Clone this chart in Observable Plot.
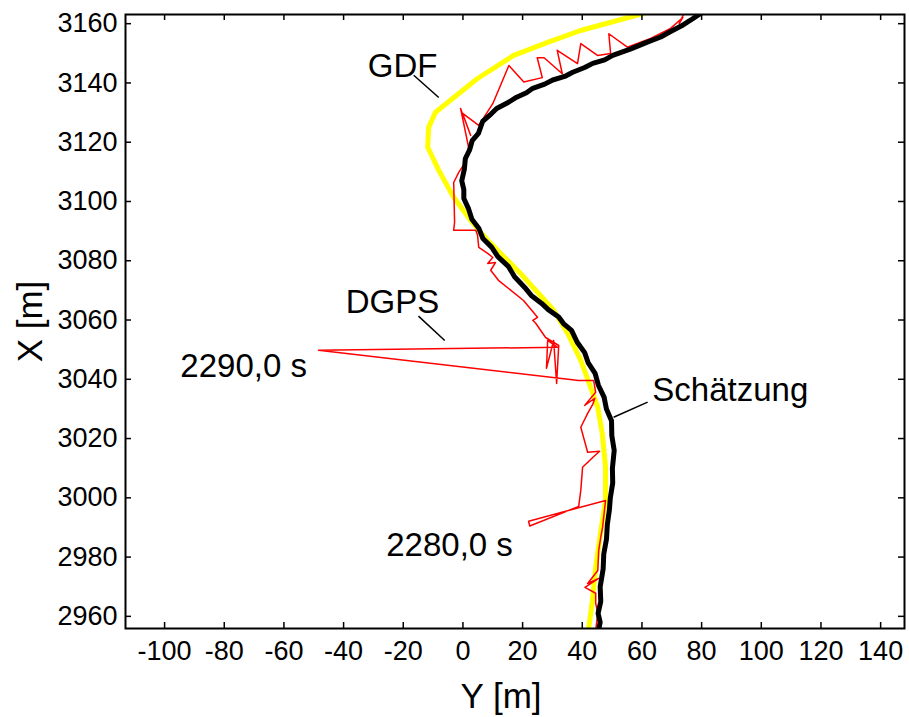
<!DOCTYPE html>
<html><head><meta charset="utf-8">
<script src="https://cdn.jsdelivr.net/npm/d3@7"></script>
<script src="https://cdn.jsdelivr.net/npm/@observablehq/plot@0.6"></script>
<style>body{margin:0;background:#fff} svg{display:block}</style>
</head><body><div id="chart"></div>
<script>
// Tick values
const xTicks = [-100, -80, -60, -40, -20, 0, 20, 40, 60, 80, 100, 120, 140];
const yTicks = [2960, 2980, 3000, 3020, 3040, 3060, 3080, 3100, 3120, 3140, 3160];

// GDF (yellow) : Y [m], X [m]
const gdfY = [42, 43.4, 44.5, 46.1, 47.8, 47.8, 46.7, 45.2, 42.8, 39.5, 35.1, 30.4, 19.3, 8.3, 2.6, -3.1, -8.1, -11.8, -11.5, -9.2, 4.9, 17, 28.4, 39.4, 62.5];
const gdfX = [2955, 2965.4, 2976.6, 2988, 2999, 3010.3, 3021.6, 3030.5, 3037.3, 3046.4, 3055.5, 3063.3, 3075.7, 3086.9, 3093.6, 3101.4, 3110.5, 3118.3, 3125, 3130.1, 3141.5, 3149.3, 3153.7, 3157.7, 3164];

// DGPS (red)
const dgpsY = [44.5, 45.2, 44.5, 44.5, 40.9, 45.5, 41.8, 45.2, 45.5, 46.2, 46.8, 47.8, 22.0, 22.4, 38.8, 39.5, 40.1, 43.5, 45.8, 41.8, 39.5, 41.8, 43.5, 44.2, 40.8, 44.5, 43.8, 38.8, -48.4, 31.7, 28.4, 28.0, 30.4, 31.4, 32.1, 27.7, 24.4, 23.4, 25.0, 20.3, 11.9, 9.3, 10.9, 8.3, 10.0, 8.3, 5.3, 4.9, 4.3, -3.1, -2.8, -3.1, -1.4, 1.2, 1.9, -0.8, 2.6, -0.1, 5.3, 10.0, 15.4, 20.4, 26.6, 24.9, 27.2, 33.3, 31.6, 38.4, 39.5, 45.1, 49.5, 48.9, 55.1, 62.9, 69.6, 73.7, 72.5, 74.1];
const dgpsX = [2955.3, 2961.0, 2964.4, 2967.8, 2969.8, 2972.8, 2971.1, 2975.5, 2982.3, 2986.7, 2990.0, 2999.1, 2992.1, 2990.5, 2997.1, 3002.5, 3010.3, 3013.6, 3015.7, 3015.4, 3023.8, 3028.5, 3031.5, 3033.6, 3031.2, 3035.6, 3039.6, 3039.6, 3049.8, 3050.8, 3053.1, 3043.7, 3053.1, 3038.6, 3051.4, 3054.1, 3058.9, 3059.9, 3060.9, 3066.6, 3073.4, 3076.8, 3079.4, 3079.1, 3081.1, 3082.5, 3084.5, 3088.6, 3090.3, 3090.3, 3093.0, 3106.4, 3109.8, 3113.9, 3118.3, 3131.4, 3122.3, 3129.7, 3125.7, 3133.0, 3145.9, 3140.3, 3141.8, 3148.5, 3148.5, 3143.1, 3151.0, 3146.5, 3153.3, 3149.3, 3149.9, 3156.6, 3152.1, 3155.0, 3158.4, 3162.1, 3160.0, 3163.5];

// Schätzung (black), slightly jittery as in the picture
const estY = [45.4, 46.0, 45.3, 46.2, 46.0, 47.0, 47.2, 48.1, 48.4, 49.1, 49.4, 50.2, 50.1, 50.7, 49.9, 49.8, 48.1, 47.3, 45.4, 44.3, 42.0, 40.8, 38.3, 36.4, 33.7, 32.1, 28.6, 26.4, 22.9, 20.7, 17.3, 15.3, 11.7, 9.6, 6.7, 5.3, 3.0, 1.9, 0.3, 0.3, -0.4, 0.5, 0.8, 2.2, 3.1, 5.2, 6.6, 9.5, 11.3, 15.3, 18.0, 21.3, 23.4, 27.4, 30.1, 34.1, 36.8, 40.8, 43.5, 47.5, 50.2, 56.3, 61.6, 66.3, 69.3, 73.3, 76.0, 80.5];
const estX = [2955, 2958, 2961, 2965, 2970, 2976, 2981, 2986, 2991, 2996, 3000, 3005, 3010, 3016, 3021, 3026, 3030, 3034, 3038, 3042, 3045.5, 3049, 3052.5, 3056.5, 3058.8, 3061, 3063.5, 3065.6, 3068.3, 3071, 3074.6, 3078, 3081.4, 3084.6, 3087.5, 3091, 3094, 3097.5, 3101, 3104, 3107, 3111, 3114.5, 3117.3, 3120.5, 3123, 3127, 3129.6, 3131.4, 3133.5, 3135.2, 3136.7, 3138.2, 3139.6, 3141, 3142.2, 3143.6, 3145.2, 3146.6, 3147.8, 3149.3, 3151.5, 3153.7, 3155.5, 3157.2, 3159.3, 3161, 3164];

// Annotations
const annoText = ["GDF", "DGPS", "2290,0 s", "Schätzung", "2280,0 s"];
const annoY = [-20.2, -23.6, -73.5, 89.6, -4.5];
const annoX = [3145.6, 3066.0, 3044.4, 3036.3, 2984.0];
// Leader lines
const leadY1 = [-16.5, -14.9, 61.9];
const leadX1 = [3142.6, 3061.3, 3032.3];
const leadY2 = [-8.1, -6.1, 50.5];
const leadX2 = [3135.1, 3053.1, 3027.2];

const toRows = (ys, xs) => ys.map((e, i) => ({e, n: xs[i]}));
const gdf = toRows(gdfY, gdfX);
const dgps = toRows(dgpsY, dgpsX);
const est = toRows(estY, estX);
const annos = annoText.map((t, i) => ({t, e: annoY[i], n: annoX[i]}));
const leaders = leadY1.map((v, i) => ({e1: v, n1: leadX1[i], e2: leadY2[i], n2: leadX2[i]}));

const W = 909, H = 717, mL = 125, mR = 5, mT = 14, mB = 89;
const innerW = W - mL - mR, innerH = H - mT - mB;

const chart = Plot.plot({
  width: W, height: H,
  marginLeft: mL, marginRight: mR, marginTop: mT, marginBottom: mB,
  style: {fontFamily: "'Liberation Sans', Arial, sans-serif", background: "#fff", color: "#000"},
  x: {domain: [-113.1, 148]},
  y: {domain: [2955.9, 3163.1]},
  marks: [
    Plot.line(gdf, {x: "e", y: "n", stroke: "#ffff00", strokeWidth: 5, clip: true}),
    Plot.line(dgps, {x: "e", y: "n", stroke: "#ff0000", strokeWidth: 1.5, clip: true}),
    Plot.line(est, {x: "e", y: "n", stroke: "#000", strokeWidth: 5, clip: true}),
    Plot.tickX(xTicks, {x: d => d, insetTop: innerH - 6, stroke: "#000", strokeWidth: 1.5}),
    Plot.tickX(xTicks, {x: d => d, insetBottom: innerH - 6, stroke: "#000", strokeWidth: 1.5}),
    Plot.tickY(yTicks, {y: d => d, insetRight: innerW - 6, stroke: "#000", strokeWidth: 1.5}),
    Plot.tickY(yTicks, {y: d => d, insetLeft: innerW - 6, stroke: "#000", strokeWidth: 1.5}),
    Plot.frame({stroke: "#000", strokeWidth: 2}),
    Plot.axisX(xTicks, {tickSize: 0, tickPadding: 12, fontSize: 27, tickFormat: d => String(d), label: null}),
    Plot.axisY(yTicks, {tickSize: 0, tickPadding: 8, fontSize: 27, tickFormat: d => String(d), label: null}),
    Plot.text(["X [m]"], {text: d => d, frameAnchor: "left", textAnchor: "middle", lineAnchor: "middle", dx: -95, rotate: -90, fontSize: 35}),
    Plot.text(["Y [m]"], {text: d => d, frameAnchor: "bottom", textAnchor: "middle", lineAnchor: "middle", dx: -14, dy: 68, fontSize: 35}),
    Plot.link(leaders, {x1: "e1", y1: "n1", x2: "e2", y2: "n2", stroke: "#000", strokeWidth: 1.5}),
    Plot.text(annos, {x: "e", y: "n", text: "t", fontSize: 33, fill: "#000"})
  ]
});
document.getElementById("chart").append(chart);
</script>
</body></html>
